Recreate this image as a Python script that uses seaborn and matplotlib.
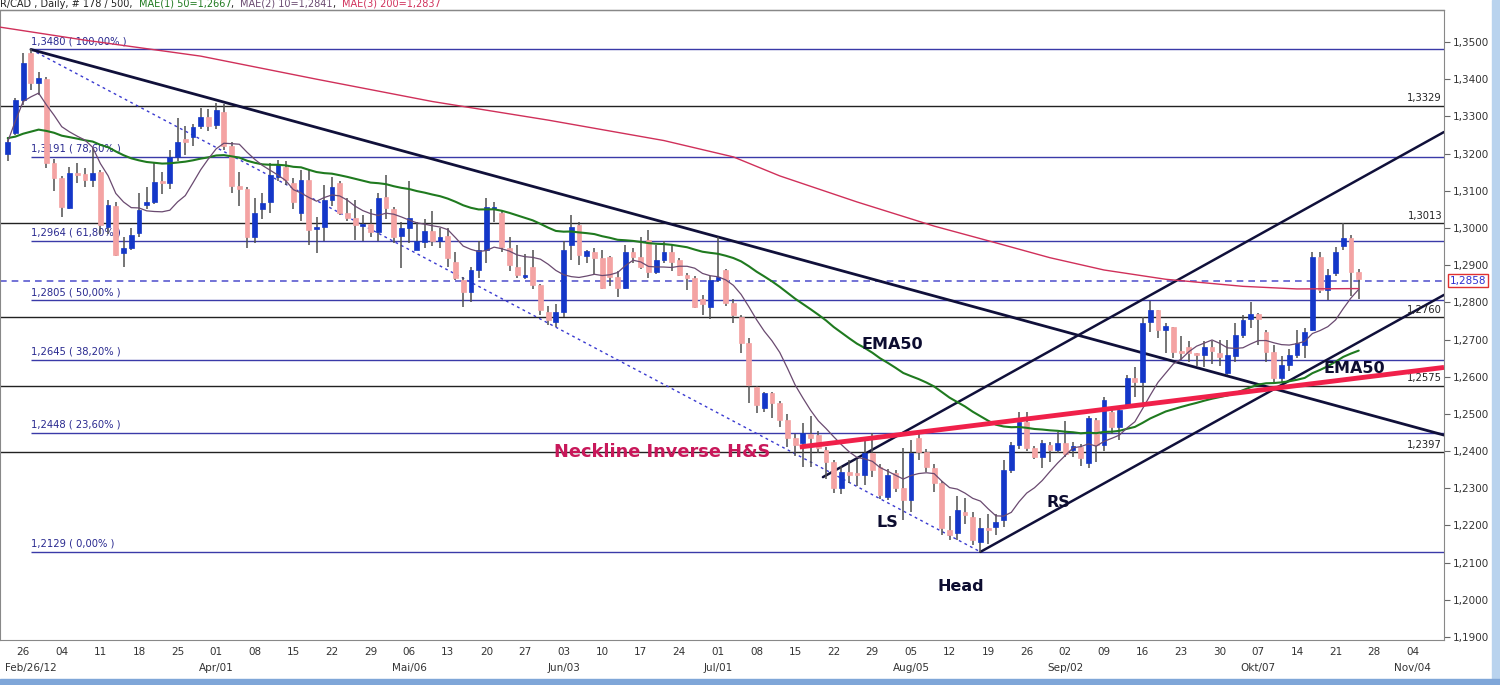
import numpy as np
import pandas as pd
import matplotlib
matplotlib.use("Agg")
import matplotlib.pyplot as plt
import seaborn as sns

# ---------------- data ----------------
opens = [1.3200,1.3255,1.3344,1.3470,1.3390,1.3400,1.3175,1.3134,1.3054,1.3148,
         1.3145,1.3128,1.3150,1.3003,1.3060,1.2933,1.2946,1.2986,1.3062,1.3070,
         1.3126,1.3121,1.3191,1.3240,1.3245,1.3274,1.3298,1.3277,1.3312,1.3220,
         1.3112,1.3105,1.2976,1.3051,1.3070,1.3137,1.3164,1.3121,1.3040,1.3129,
         1.2997,1.3003,1.3075,1.3121,1.3040,1.3027,1.3005,1.3011,1.2989,1.3083,
         1.3051,1.2978,1.3000,1.2941,1.2962,1.2992,1.2965,1.2978,1.2908,1.2860,
         1.2828,1.2887,1.2941,1.3050,1.3040,1.2946,1.2895,1.2868,1.2895,1.2847,
         1.2774,1.2747,1.2774,1.2954,1.3008,1.2925,1.2935,1.2920,1.2922,1.2868,
         1.2839,1.2935,1.2922,1.2968,1.2882,1.2914,1.2935,1.2914,1.2873,1.2866,
         1.2810,1.2787,1.2860,1.2887,1.2798,1.2761,1.2691,1.2572,1.2516,1.2556,
         1.2529,1.2484,1.2435,1.2422,1.2445,1.2443,1.2403,1.2371,1.2301,1.2344,
         1.2342,1.2336,1.2395,1.2357,1.2277,1.2341,1.2301,1.2268,1.2435,1.2398,
         1.2355,1.2314,1.2188,1.2180,1.2236,1.2223,1.2156,1.2193,1.2196,1.2215,
         1.2349,1.2416,1.2478,1.2408,1.2384,1.2416,1.2403,1.2422,1.2403,1.2411,
         1.2368,1.2484,1.2416,1.2505,1.2465,1.2524,1.2597,1.2586,1.2747,1.2779,
         1.2726,1.2734,1.2668,1.2680,1.2664,1.2658,1.2680,1.2664,1.2610,1.2656,
         1.2712,1.2755,1.2769,1.2720,1.2666,1.2597,1.2631,1.2658,1.2685,1.2726,
         1.2922,1.2833,1.2879,1.2951,1.2973,1.2882]
highs = [1.3245,1.3350,1.3470,1.3480,1.3420,1.3405,1.3185,1.3140,1.3165,1.3175,
         1.3160,1.3215,1.3155,1.3075,1.3070,1.2976,1.3000,1.3094,1.3110,1.3175,
         1.3150,1.3210,1.3296,1.3275,1.3280,1.3322,1.3320,1.3336,1.3334,1.3230,
         1.3150,1.3110,1.3081,1.3093,1.3175,1.3183,1.3180,1.3135,1.3157,1.3155,
         1.3030,1.3115,1.3137,1.3125,1.3080,1.3075,1.3035,1.3050,1.3094,1.3142,
         1.3055,1.3015,1.3126,1.3015,1.3025,1.3045,1.3000,1.3000,1.2935,1.2868,
         1.2895,1.2965,1.3080,1.3070,1.3045,1.2975,1.2955,1.2930,1.2940,1.2850,
         1.2790,1.2795,1.2965,1.3035,1.3015,1.2940,1.2945,1.2940,1.2925,1.2885,
         1.2955,1.2945,1.2975,1.2995,1.2955,1.2965,1.2955,1.2920,1.2880,1.2870,
         1.2820,1.2870,1.2976,1.2890,1.2810,1.2765,1.2705,1.2575,1.2560,1.2560,
         1.2535,1.2500,1.2445,1.2475,1.2495,1.2455,1.2410,1.2375,1.2360,1.2375,
         1.2380,1.2430,1.2448,1.2365,1.2352,1.2350,1.2408,1.2430,1.2445,1.2405,
         1.2365,1.2320,1.2225,1.2280,1.2275,1.2235,1.2220,1.2230,1.2230,1.2375,
         1.2425,1.2505,1.2505,1.2415,1.2430,1.2425,1.2450,1.2480,1.2425,1.2420,
         1.2495,1.2490,1.2545,1.2515,1.2520,1.2605,1.2625,1.2760,1.2804,1.2780,
         1.2745,1.2735,1.2710,1.2695,1.2665,1.2695,1.2695,1.2700,1.2700,1.2745,
         1.2765,1.2800,1.2770,1.2725,1.2685,1.2655,1.2675,1.2725,1.2730,1.2936,
         1.2936,1.2890,1.2950,1.3013,1.2980,1.2890]
lows = [1.3180,1.3250,1.3330,1.3370,1.3357,1.3160,1.3100,1.3030,1.3050,1.3120,
        1.3110,1.3110,1.2985,1.2985,1.2925,1.2895,1.2940,1.2975,1.3050,1.3065,
        1.3090,1.3105,1.3180,1.3195,1.3220,1.3265,1.3260,1.3265,1.3210,1.3095,
        1.3060,1.2946,1.2960,1.3025,1.3040,1.3125,1.3115,1.3050,1.3020,1.2954,
        1.2933,1.2965,1.3060,1.3035,1.3020,1.2967,1.2965,1.2975,1.2965,1.3023,
        1.2960,1.2892,1.2960,1.2940,1.2945,1.2952,1.2945,1.2895,1.2860,1.2787,
        1.2800,1.2865,1.2905,1.3015,1.2935,1.2885,1.2865,1.2862,1.2835,1.2765,
        1.2738,1.2735,1.2760,1.2915,1.2900,1.2905,1.2875,1.2835,1.2845,1.2815,
        1.2835,1.2905,1.2890,1.2865,1.2875,1.2905,1.2885,1.2870,1.2832,1.2785,
        1.2765,1.2755,1.2855,1.2790,1.2745,1.2664,1.2529,1.2502,1.2505,1.2490,
        1.2466,1.2411,1.2386,1.2357,1.2357,1.2395,1.2325,1.2287,1.2285,1.2315,
        1.2305,1.2310,1.2330,1.2270,1.2268,1.2290,1.2215,1.2236,1.2375,1.2345,
        1.2290,1.2174,1.2160,1.2160,1.2205,1.2148,1.2129,1.2150,1.2175,1.2195,
        1.2340,1.2405,1.2400,1.2380,1.2355,1.2370,1.2395,1.2385,1.2385,1.2360,
        1.2355,1.2370,1.2400,1.2445,1.2430,1.2520,1.2545,1.2530,1.2720,1.2705,
        1.2665,1.2650,1.2645,1.2640,1.2630,1.2625,1.2635,1.2630,1.2605,1.2640,
        1.2705,1.2730,1.2685,1.2640,1.2585,1.2585,1.2615,1.2650,1.2650,1.2722,
        1.2825,1.2805,1.2870,1.2940,1.2816,1.2808]
closes = [1.3232,1.3344,1.3444,1.3390,1.3403,1.3175,1.3134,1.3056,1.3148,1.3142,
          1.3128,1.3148,1.3008,1.3062,1.2927,1.2946,1.2981,1.3048,1.3070,1.3124,
          1.3120,1.3191,1.3231,1.3232,1.3271,1.3298,1.3274,1.3317,1.3220,1.3112,
          1.3105,1.2976,1.3040,1.3067,1.3142,1.3169,1.3129,1.3070,1.3129,1.2994,
          1.3003,1.3075,1.3110,1.3040,1.3027,1.3008,1.3010,1.2989,1.3081,1.3054,
          1.2976,1.3000,1.3027,1.2965,1.2992,1.2965,1.2976,1.2919,1.2865,1.2828,
          1.2887,1.2941,1.3056,1.3055,1.2949,1.2900,1.2873,1.2873,1.2847,1.2779,
          1.2752,1.2774,1.2941,1.3003,1.2927,1.2938,1.2920,1.2839,1.2868,1.2839,
          1.2935,1.2922,1.2895,1.2882,1.2914,1.2935,1.2908,1.2873,1.2866,1.2787,
          1.2795,1.2860,1.2868,1.2798,1.2766,1.2691,1.2578,1.2524,1.2556,1.2529,
          1.2484,1.2435,1.2416,1.2449,1.2435,1.2408,1.2371,1.2301,1.2344,1.2336,
          1.2336,1.2395,1.2349,1.2282,1.2336,1.2301,1.2268,1.2395,1.2398,1.2357,
          1.2314,1.2193,1.2174,1.2242,1.2228,1.2161,1.2193,1.2188,1.2209,1.2349,
          1.2416,1.2478,1.2408,1.2384,1.2422,1.2403,1.2422,1.2392,1.2415,1.2381,
          1.2489,1.2416,1.2537,1.2465,1.2510,1.2597,1.2586,1.2744,1.2779,1.2726,
          1.2736,1.2666,1.2665,1.2664,1.2658,1.2680,1.2670,1.2653,1.2658,1.2712,
          1.2752,1.2769,1.2755,1.2666,1.2597,1.2631,1.2658,1.2691,1.2720,1.2922,
          1.2833,1.2873,1.2935,1.2973,1.2882,1.2863]

ma200_t = [-1, 10, 25, 40, 55, 70, 85, 94, 100, 110, 120, 128, 135, 142, 150, 160, 167, 175]
ma200_v = [1.3540, 1.3505, 1.3462, 1.3400, 1.3340, 1.3290, 1.3235, 1.3191, 1.3140, 1.3070,
           1.3005, 1.2960, 1.2920, 1.2887, 1.2862, 1.2843, 1.2836, 1.2837]
ema50_seed = 1.3242

week_labels = ["26","04","11","18","25","01","08","15","22","29","06","13","20","27",
               "03","10","17","24","01","08","15","22","29","05","12","19","26","02",
               "09","16","23","30","07","14","21","28","04"]
month_labels = ["Feb/26/12","Apr/01","Mai/06","Jun/03","Jul/01","Aug/05","Sep/02","Okt/07","Nov/04"]
month_week_idx = [0, 5, 10, 14, 18, 23, 27, 32, 36]

fib_levels = [1.3480, 1.3191, 1.2964, 1.2805, 1.2645, 1.2448, 1.2129]
fib_texts = ["1,3480 ( 100,00% )", "1,3191 ( 78,60% )", "1,2964 ( 61,80% )",
             "1,2805 ( 50,00% )", "1,2645 ( 38,20% )", "1,2448 ( 23,60% )", "1,2129 ( 0,00% )"]
black_levels = [1.3329, 1.3013, 1.2760, 1.2575, 1.2397]
black_texts = ["1,3329", "1,3013", "1,2760", "1,2575", "1,2397"]
last_price = 1.2858
yticks = [1.19 + 0.01 * i for i in range(17)]

# ---------------- figure ----------------
sns.set_style("white")
plt.rcParams['font.family'] = ['DejaVu Sans']
W, H = 1500, 685
fig = plt.figure(figsize=(15, 6.85), dpi=100)
ax = fig.add_axes([0, 1 - 640 / H, 1444 / W, 630 / H])
ppd = 7.72
x0 = -1.0
xr = x0 + 1444 / ppd
ax.set_xlim(x0, xr)
ymax = 1.35 + 32 / 3719
ymin = 1.35 - 598 / 3719
ax.set_ylim(ymin, ymax)

n = len(closes)
t = np.arange(n)
df = pd.DataFrame({"t": t, "open": opens, "high": highs, "low": lows, "close": closes})

# horizontal levels
fib_c = "#3a3aa8"
for lv, tx in zip(fib_levels, fib_texts):
    ax.hlines(lv, 3, xr, color=fib_c, lw=1, zorder=1)
    ax.text(3, lv + 0.0009, tx, color="#2a2a90", fontsize=7.2, va="bottom", ha="left")
for lv, tx in zip(black_levels, black_texts):
    ax.axhline(lv, color="#222222", lw=1, zorder=1)
    ax.text(x0 + 1442 / ppd, lv + 0.0007, tx, color="#222222", fontsize=7.2, va="bottom", ha="right")
ax.axhline(last_price, color="#5a5ad0", lw=1.2, ls=(0, (4, 3)), zorder=1)

# trend lines
ax.plot([3, 126], [1.3480, 1.2129], color="#3a3ad0", lw=1, ls=(0, (2, 2.5)), zorder=2)
ax.plot([3, xr], [1.3480, 1.2443], color="#10103a", lw=2, zorder=2)
ax.plot([105.6, xr], [1.2330, 1.3258], color="#10103a", lw=1.8, zorder=2)
ax.plot([126, xr], [1.2129, 1.2820], color="#10103a", lw=1.8, zorder=2)

# candles
up = df[df.close >= df.open]
dn = df[df.close < df.open]
ax.vlines(df.t, df.low, df.high, color="#505050", lw=1.1, zorder=3)
ax.bar(up.t, (up.close - up.open).clip(lower=0.00025), bottom=up.open, width=0.62,
       color="#1437c8", edgecolor="#1437c8", lw=0.5, zorder=4)
ax.bar(dn.t, (dn.close - dn.open).abs().clip(lower=0.00025), bottom=dn.close, width=0.62,
       color="#f4a3a3", edgecolor="#f4a3a3", lw=0.5, zorder=4)

# moving averages
df["ma10"] = df.close.rolling(10, min_periods=1).mean()
ema = pd.concat([pd.Series([ema50_seed]), df.close], ignore_index=True).ewm(span=50, adjust=False).mean()
df["ema50"] = ema.iloc[1:].values
sns.lineplot(data=df, x="t", y="ema50", color="#1f7a1f", lw=1.5, ax=ax, zorder=5)
sns.lineplot(data=df, x="t", y="ma10", color="#6a4a70", lw=0.9, ax=ax, zorder=5)
sns.lineplot(x=ma200_t, y=ma200_v, color="#d0305a", lw=1.0, ax=ax, zorder=5)

# neckline
ax.plot([102.6, xr], [1.2411, 1.2625], color="#f0204a", lw=3.5, zorder=6, solid_capstyle="butt")

# annotations
lab = dict(fontsize=11.5, fontweight="bold", color="#0d0d30", zorder=7)
ax.text(110.6, 1.2675, "EMA50", **lab)
ax.text(170.4, 1.2611, "EMA50", **lab)
ax.text(112.5, 1.2195, "LS", **lab)
ax.text(120.5, 1.2025, "Head", **lab)
ax.text(134.5, 1.2250, "RS", **lab)
ax.text(70.8, 1.2385, "Neckline Inverse H&S", fontsize=12.8, fontweight="bold", color="#c8185a", zorder=7)

# axes styling
ax.set_xlabel(""); ax.set_ylabel("")
for s in ["left", "top", "bottom", "right"]:
    ax.spines[s].set_color("#888888")
ax.yaxis.tick_right()
ax.set_yticks(yticks)
ax.set_yticklabels([f"{v:.4f}".replace(".", ",") for v in yticks], fontsize=7.5, color="#333333")
ax.tick_params(axis="y", direction="out", length=4, color="#666666", pad=2)
wk_pos = [2 + 5 * k for k in range(len(week_labels))]
ax.set_xticks(wk_pos)
ax.set_xticklabels(week_labels, fontsize=7.5, color="#333333")
ax.tick_params(axis="x", direction="out", length=3, color="#666666", pad=2)
for i, m in zip(month_week_idx, month_labels):
    if i == 0:
        ax.text(x0 + 5 / ppd, ymin - 0.0062, m, fontsize=7.5, color="#333333", ha="left", va="top")
    else:
        ax.text(wk_pos[i], ymin - 0.0062, m, fontsize=7.5, color="#333333", ha="center", va="top")

# last price box
ax.text(xr + 0.75, last_price, "1,2858", fontsize=7.5, color="#3030d0", va="center", ha="left",
        bbox=dict(boxstyle="square,pad=0.15", fc="white", ec="#e03030", lw=1), clip_on=False)

# header (chained texts)
hy = 1 - 4 / H
parts = [("R/CAD , Daily, # 178 / 500, ", "#222222"), ("MAE(1) 50=1,2667", "#1f7a1f"),
         (", ", "#222222"), ("MAE(2) 10=1,2841", "#6a4a70"), (", ", "#222222"),
         ("MAE(3) 200=1,2837", "#d0305a")]
renderer = fig.canvas.get_renderer()
px = 0.0
for s, c in parts:
    tt = fig.text(px / W, hy, s, fontsize=7, color=c, va="center", ha="left")
    bb = tt.get_window_extent(renderer=renderer)
    px += bb.width + (3 if s.endswith(" ") else 0)
fig.add_artist(plt.Line2D([0, 1444 / W], [1 - 10 / H, 1 - 10 / H], color="#888888", lw=1))
# window frame
fig.patches.append(plt.Rectangle((1492 / W, 0), 8 / W, 1, transform=fig.transFigure, color="#b9d3ee"))
fig.patches.append(plt.Rectangle((0, 0), 1, 6 / H, transform=fig.transFigure, color="#7fa6d8"))

fig.savefig("out.png", dpi=100)
